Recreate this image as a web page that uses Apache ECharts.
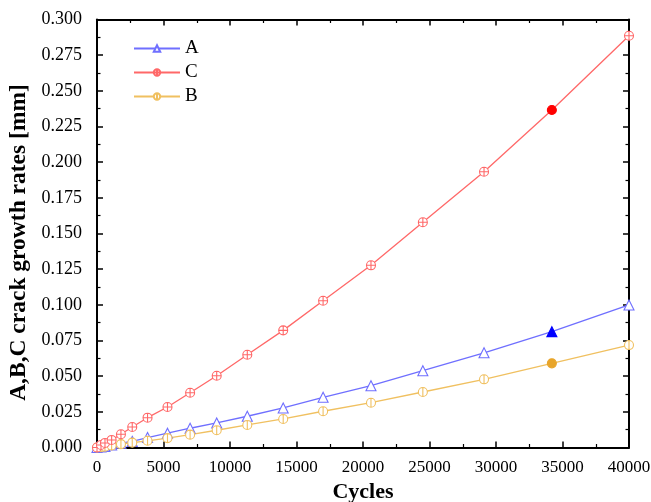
<!DOCTYPE html>
<html>
<head>
<meta charset="utf-8">
<script src="https://cdn.jsdelivr.net/npm/echarts@6/dist/echarts.min.js"></script>
<style>html,body{margin:0;padding:0;background:#fff}#c{width:651px;height:502px}</style>
</head>
<body>
<div id="c"></div>
<script>
const cycles = [0, 300, 600, 1100, 1800, 2650, 3800, 5300, 7000, 9000, 11300, 14000, 17000, 20600, 24500, 29100, 34200, 40000];
const seriesA = [0, 0.0003, 0.0008, 0.0018, 0.0030, 0.0043, 0.0070, 0.0100, 0.0135, 0.0172, 0.0219, 0.0277, 0.0352, 0.0433, 0.0538, 0.0664, 0.0812, 0.0999];
const seriesC = [0, 0.0018, 0.0032, 0.0053, 0.0093, 0.0144, 0.0209, 0.0284, 0.0384, 0.0503, 0.0650, 0.0821, 0.1029, 0.1277, 0.1579, 0.1933, 0.2366, 0.2886];
const seriesB = [0, 0.0002, 0.0006, 0.0014, 0.0024, 0.0034, 0.0047, 0.0066, 0.0090, 0.0121, 0.0158, 0.0200, 0.0254, 0.0314, 0.0389, 0.0478, 0.0590, 0.0718];
const seriesNames = ['A', 'C', 'B'];
const filledCycle = 34200;
const xTitle = 'Cycles';
const yTitle = 'A,B,C crack growth rates [mm]';

const serif = '"Liberation Serif","Times New Roman",serif';
const circlePlus = 'path://M-10,0A10,10,0,1,0,10,0A10,10,0,1,0,-10,0ZM0,-10L0,10M-10,0L10,0';
const circleBar = 'path://M-10,0A10,10,0,1,0,10,0A10,10,0,1,0,-10,0ZM0,-10L0,10';

function build(vals, name, lineColor, solidColor, symbol, solidSymbol, size) {
  return {
    name: name, type: 'line', xAxisIndex: 0, yAxisIndex: 0,
    symbol: symbol, symbolSize: size, showAllSymbol: true, clip: false,
    lineStyle: { color: lineColor, width: 1.3 },
    itemStyle: { color: '#fff', borderColor: lineColor, borderWidth: 1.1 },
    emphasis: { disabled: true },
    z: name === 'C' ? 3 : 2,
    data: cycles.map((c, i) => {
      if (c === filledCycle) {
        return { value: [c, vals[i]], symbol: solidSymbol, symbolSize: size,
          itemStyle: { color: solidColor, borderColor: solidColor } };
      }
      return [c, vals[i]];
    })
  };
}

const axisLine = { show: true, onZero: false, lineStyle: { color: '#000', width: 2 } };
const tick = { show: true, inside: true, length: 6, lineStyle: { color: '#000', width: 1.5 } };
const minor = { show: true, splitNumber: 2, length: 3.5, lineStyle: { color: '#000', width: 1.2 } };

const chart = echarts.init(document.getElementById('c'), null, { renderer: 'canvas' });
chart.setOption({
  animation: false,
  backgroundColor: '#fff',
  grid: { left: 97, right: 22, top: 19.5, bottom: 54.5, containLabel: false, outerBoundsMode: 'none' },
  legend: {
    orient: 'vertical', left: 128, top: 34,
    itemWidth: 46, itemHeight: 8, itemGap: 5,
    textStyle: { fontFamily: serif, fontSize: 19, color: '#000' },
    data: seriesNames
  },
  xAxis: [{
    type: 'value', min: 0, max: 40000, interval: 5000, position: 'bottom',
    name: xTitle, nameLocation: 'middle', nameGap: 33,
    nameTextStyle: { fontFamily: serif, fontSize: 22, fontWeight: 'bold', color: '#000' },
    axisLine: axisLine, axisTick: tick, minorTick: minor, splitLine: { show: false },
    axisLabel: { fontFamily: serif, fontSize: 17, color: '#000', margin: 12,
      formatter: v => String(v) }
  }, {
    type: 'value', min: 0, max: 40000, interval: 5000, position: 'top',
    axisLine: axisLine, axisTick: tick, minorTick: minor, splitLine: { show: false },
    axisLabel: { show: false }
  }],
  yAxis: [{
    type: 'value', min: 0, max: 0.3, interval: 0.025, position: 'left',
    name: yTitle, nameLocation: 'middle', nameGap: 58,
    nameTextStyle: { fontFamily: serif, fontSize: 23.5, fontWeight: 'bold', color: '#000',
      padding: [0, 18, 0, 0] },
    axisLine: axisLine, axisTick: tick, minorTick: minor, splitLine: { show: false },
    axisLabel: { fontFamily: serif, fontSize: 18, color: '#000', margin: 15,
      formatter: v => v.toFixed(3) }
  }, {
    type: 'value', min: 0, max: 0.3, interval: 0.025, position: 'right',
    axisLine: axisLine, axisTick: tick, minorTick: minor, splitLine: { show: false },
    axisLabel: { show: false }
  }],
  series: [
    build(seriesA, seriesNames[0], '#6f6fff', '#0000ff', 'triangle', 'triangle', 10),
    build(seriesC, seriesNames[1], '#ff6868', '#ff0000', circlePlus, 'circle', 9),
    build(seriesB, seriesNames[2], '#f0c060', '#e8a52a', circleBar, 'circle', 9)
  ]
});
</script>
</body>
</html>
